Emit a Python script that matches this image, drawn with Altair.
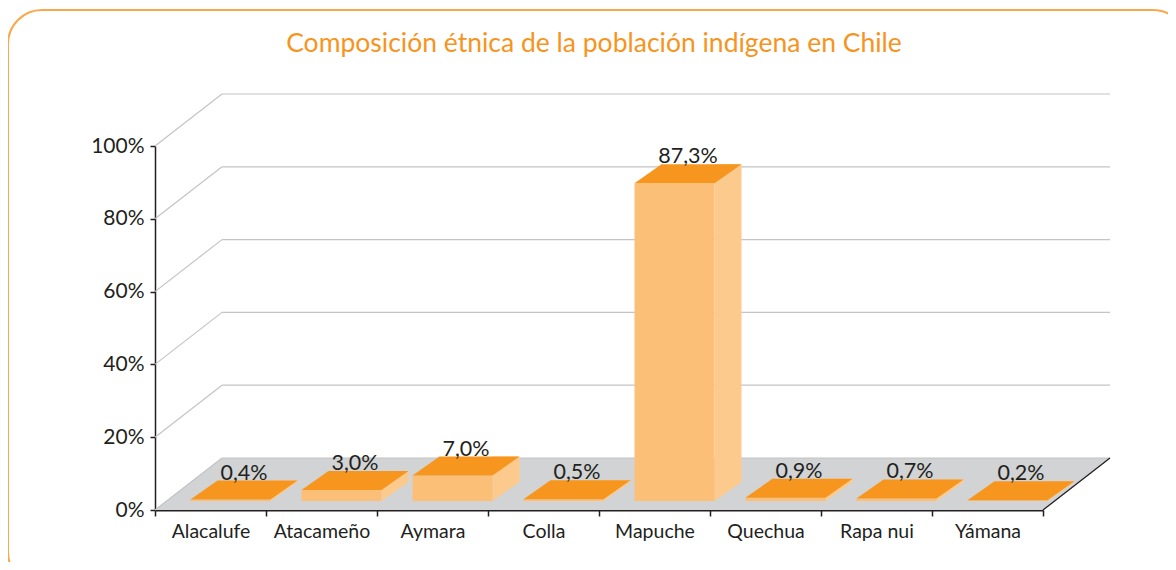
import altair as alt
import pandas as pd

# ---- data ----
categories = ["Alacalufe", "Atacameño", "Aymara", "Colla", "Mapuche", "Quechua", "Rapa nui", "Yámana"]
shares = [0.4, 3.0, 7.0, 0.5, 87.3, 0.9, 0.7, 0.2]
grid_values = [0, 20, 40, 60, 80, 100]
title_text = "Composición étnica de la población indígena en Chile"

bars = pd.DataFrame({"grupo": categories, "pct": shares})
grid = pd.DataFrame({"v": grid_values})
one = pd.DataFrame({"k": [0]})

# ---- style / geometry (pixels) ----
W, H = 888, 364
DX, DY = 67, -52        # depth of the back wall
BX, BY = 27, -19        # depth of each bar
BASE = -9               # bars stand slightly behind the front edge
BAR_W = 80
SHIFT = 20

FONT = "Lato"
DARK = "#231f20"
GRID = "#c4c4c4"
FLOOR = "#d1d3d4"
FRONT = "#fbbf77"
SIDE = "#fdca8e"
TOP = "#f7961f"
ORANGE = "#f7941d"
BORDER = "#f9a94c"

yscale = alt.Scale(domain=[0, 100], nice=False, zero=True)
yaxis = alt.Axis(values=grid_values, labelExpr="datum.value + '%'", title=None, grid=False,
                 domainColor=DARK, domainWidth=1.5, tickColor=DARK, tickWidth=1.5, tickSize=5,
                 labelFont=FONT, labelFontSize=21, labelColor=DARK, labelPadding=6)
xaxis = alt.Axis(title=None, tickBand="extent", labelAngle=0, labelFont=FONT, labelFontSize=19.5,
                 labelColor=DARK, domainColor=DARK, domainWidth=2, tickColor=DARK, tickWidth=1.5,
                 tickSize=6, labelPadding=6, grid=False)
xenc = alt.X("grupo:N", sort=categories, scale=alt.Scale(paddingInner=0, paddingOuter=0), axis=xaxis)
y0 = alt.YDatum(0, type="quantitative", scale=yscale, axis=yaxis)

border = alt.Chart(one).mark_rect(cornerRadius=34, fillOpacity=0, stroke=BORDER, strokeWidth=2).encode(
    x=alt.value(-147), x2=alt.value(1032), y=alt.value(-136), y2=alt.value(440))

floor = alt.Chart(one).mark_point(
    shape=f"M0,0 L{W},0 L{W + DX},{DY} L{DX},{DY} Z", size=4, filled=True, fill=FLOOR,
    opacity=1, strokeWidth=0).encode(x=alt.value(0), y=y0)

wall = alt.Chart(grid).mark_rule(yOffset=DY, y2Offset=DY, color=GRID, strokeWidth=1.2).encode(
    y=alt.Y("v:Q", scale=yscale, axis=yaxis), y2="v:Q", x=alt.value(DX), x2=alt.value(W + DX))

diag = alt.Chart(grid).mark_rule(y2Offset=DY, color=GRID, strokeWidth=1.2).encode(
    y=alt.Y("v:Q", scale=yscale, axis=yaxis), y2="v:Q", x=alt.value(0), x2=alt.value(DX))

edge = alt.Chart(one).mark_rule(y2Offset=DY, color=DARK, strokeWidth=1.3).encode(
    y=y0, y2=alt.Y2Datum(0), x=alt.value(W), x2=alt.value(W + DX))

ypct = alt.Y("pct:Q", scale=yscale, axis=yaxis)

side = alt.Chart(bars).mark_bar(width=BX, xOffset=SHIFT + BAR_W / 2 + BX / 2, yOffset=BASE + BY,
                                y2Offset=BASE + BY, color=SIDE).encode(x=xenc, y=ypct, y2=alt.Y2Datum(0))

side_tri = alt.Chart(bars).mark_point(
    shape=f"M0,0 L0,{BY} L{BX},{BY} Z", size=4, filled=True, fill=SIDE, opacity=1, strokeWidth=0,
    xOffset=SHIFT + BAR_W / 2, yOffset=BASE).encode(x=xenc, y=y0)

front = alt.Chart(bars).mark_bar(width=BAR_W, xOffset=SHIFT, yOffset=BASE, y2Offset=BASE,
                                 color=FRONT).encode(x=xenc, y=ypct, y2=alt.Y2Datum(0))

top = alt.Chart(bars).mark_point(
    shape=f"M{-BAR_W / 2},0 L{BAR_W / 2},0 L{BAR_W / 2 + BX},{BY} L{-BAR_W / 2 + BX},{BY} Z",
    size=4, filled=True, fill=TOP, opacity=1, strokeWidth=0, xOffset=SHIFT, yOffset=BASE).encode(
    x=xenc, y=ypct)

labels = alt.Chart(bars).transform_calculate(
    lab="replace(format(datum.pct, '.1f'), '.', ',') + '%'"
).mark_text(font=FONT, fontSize=21.5, color=DARK, baseline="middle", xOffset=SHIFT + BX / 2,
            yOffset=BASE - 26).encode(x=xenc, y=ypct, text="lab:N")

chart = alt.layer(border, floor, wall, diag, edge, side, side_tri, front, top, labels).properties(
    width=W, height=H,
    title=alt.TitleParams(title_text, font=FONT, fontSize=26.5, color=ORANGE, fontWeight="normal",
                          anchor="middle", offset=-48, dx=-5),
    autosize=alt.AutoSizeParams(type="none"),
    padding={"left": 147, "top": 138, "right": 125, "bottom": 52},
).configure_view(stroke=None)

chart.save("out.html", embed_options={"renderer": "svg", "actions": False})
